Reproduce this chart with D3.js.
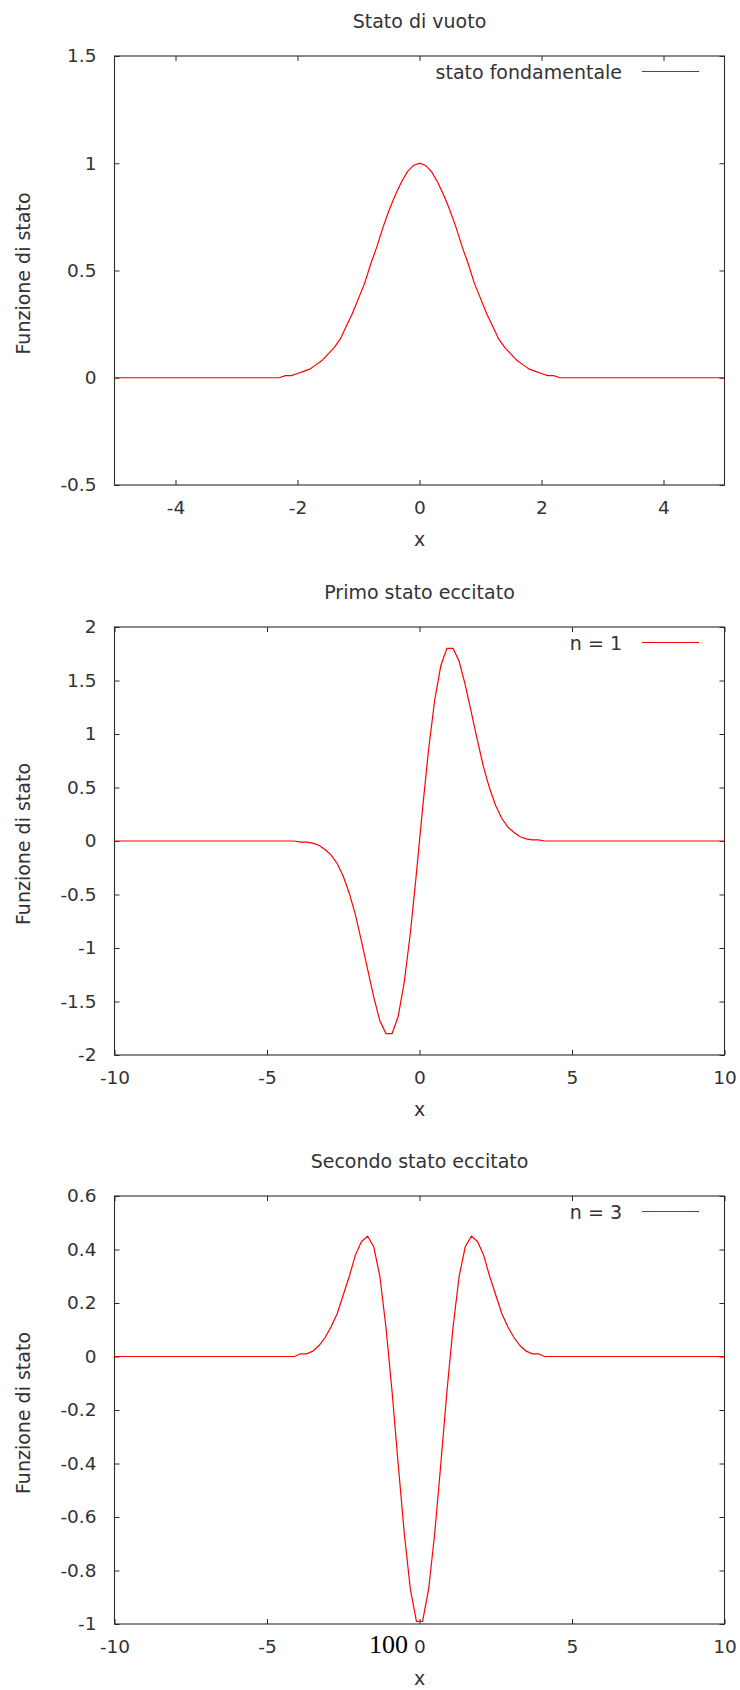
<!DOCTYPE html>

<head>
    <meta charset="UTF-8" />
    <style>
        body {
            margin: 0;
            padding: 0;
            background: #fff;
        }

        text {
            font-family: "DejaVu Sans", sans-serif;
            font-size: 19px;
            fill: #333;
        }

        .tick text {
            font-size: 18.5px;
        }

        .frame {
            fill: none;
            stroke: #2a2a2a;
            stroke-width: 1.1px;
        }

        .tick line {
            stroke: #2a2a2a;
            stroke-width: 1px;
        }

        .curve {
            fill: none;
            stroke: #ff0000;
            stroke-width: 1.2px;
        }
    </style>
    <title>Funzione di stato</title>
</head>

<svg width="740" height="1690"></svg>
<script src="https://d3js.org/d3.v7.min.js"></script>

<script>
    // labels
    var titles = ["Stato di vuoto", "Primo stato eccitato", "Secondo stato eccitato"]
    var legends = ["stato fondamentale", "n = 1", "n = 3"]
    var yLabel = "Funzione di stato"
    var xLabel = "x"

    // axes
    var xRange1 = [-5, 5], yRange1 = [-0.5, 1.5]
    var xTicks1 = [-4, -2, 0, 2, 4], yTicks1 = [-0.5, 0, 0.5, 1, 1.5]
    var xRange2 = [-10, 10], yRange2 = [-2, 2]
    var xTicks2 = [-10, -5, 0, 5, 10], yTicks2 = [-2, -1.5, -1, -0.5, 0, 0.5, 1, 1.5, 2]
    var xRange3 = [-10, 10], yRange3 = [-1, 0.6]
    var xTicks3 = [-10, -5, 0, 5, 10], yTicks3 = [-1, -0.8, -0.6, -0.4, -0.2, 0, 0.2, 0.4, 0.6]

    // stato fondamentale
    var x1 = [-5, -2.4, -2.3, -2.2, -2.1, -2, -1.9, -1.8, -1.7, -1.6, -1.5, -1.4, -1.3, -1.2, -1.1, -1,
        -0.9, -0.8, -0.7, -0.6, -0.5, -0.4, -0.3, -0.2, -0.1, 0, 0.1, 0.2, 0.3, 0.4, 0.5, 0.6, 0.7, 0.8, 0.9,
        1, 1.1, 1.2, 1.3, 1.4, 1.5, 1.6, 1.7, 1.8, 1.9, 2, 2.1, 2.2, 2.3, 2.4, 5]
    var y1 = [0, 0, 0, 0.01, 0.01, 0.02, 0.03, 0.04, 0.06, 0.08, 0.11, 0.14, 0.18, 0.24, 0.30, 0.37,
        0.44, 0.53, 0.61, 0.70, 0.78, 0.85, 0.91, 0.96, 0.99, 1.00, 0.99, 0.96, 0.91, 0.85, 0.78, 0.70, 0.61, 0.53, 0.44,
        0.37, 0.30, 0.24, 0.18, 0.14, 0.11, 0.08, 0.06, 0.04, 0.03, 0.02, 0.01, 0.01, 0, 0, 0]

    // n = 1
    var x2 = [-10, -4.1, -3.9, -3.7, -3.5, -3.3, -3.1, -2.9, -2.7, -2.5, -2.3, -2.1, -1.9, -1.7, -1.5, -1.3, -1.1,
        -0.9, -0.7, -0.5, -0.3, -0.1, 0.1, 0.3, 0.5, 0.7, 0.9, 1.1, 1.3, 1.5, 1.7, 1.9, 2.1, 2.3, 2.5, 2.7, 2.9,
        3.1, 3.3, 3.5, 3.7, 3.9, 4.1, 10]
    var y2 = [0, 0, -0.01, -0.01, -0.02, -0.04, -0.08, -0.13, -0.21, -0.33, -0.49, -0.69, -0.94, -1.20, -1.46, -1.68, -1.80,
        -1.80, -1.64, -1.32, -0.86, -0.30, 0.30, 0.86, 1.32, 1.64, 1.80, 1.80, 1.68, 1.46, 1.20, 0.94, 0.69, 0.49, 0.33, 0.21, 0.13,
        0.08, 0.04, 0.02, 0.01, 0.01, 0, 0]

    // n = 3
    var x3 = [-10, -4.1, -3.9, -3.7, -3.5, -3.3, -3.1, -2.9, -2.7, -2.5, -2.3, -2.1, -1.9, -1.7, -1.5, -1.3, -1.1,
        -0.9, -0.7, -0.5, -0.3, -0.1, 0.1, 0.3, 0.5, 0.7, 0.9, 1.1, 1.3, 1.5, 1.7, 1.9, 2.1, 2.3, 2.5, 2.7, 2.9,
        3.1, 3.3, 3.5, 3.7, 3.9, 4.1, 10]
    var y3 = [0, 0, 0.01, 0.01, 0.02, 0.04, 0.07, 0.11, 0.16, 0.23, 0.30, 0.38, 0.43, 0.45, 0.41, 0.30, 0.11,
        -0.13, -0.40, -0.66, -0.87, -0.99, -0.99, -0.87, -0.66, -0.40, -0.13, 0.11, 0.30, 0.41, 0.45, 0.43, 0.38, 0.30, 0.23, 0.16, 0.11,
        0.07, 0.04, 0.02, 0.01, 0.01, 0, 0]

    var svg = d3.select("svg")
    var left = 114.5, right = 724.5

    var panels = [
        { top: 56, bottom: 485, xr: xRange1, yr: yRange1, xt: xTicks1, yt: yTicks1, xs: x1, ys: y1 },
        { top: 627, bottom: 1055, xr: xRange2, yr: yRange2, xt: xTicks2, yt: yTicks2, xs: x2, ys: y2 },
        { top: 1196, bottom: 1624, xr: xRange3, yr: yRange3, xt: xTicks3, yt: yTicks3, xs: x3, ys: y3 }
    ]

    var fmt = d => String(d)

    panels.forEach(function (p, i) {
        var x = d3.scaleLinear().domain(p.xr).range([left, right])
        var y = d3.scaleLinear().domain(p.yr).range([p.bottom, p.top])
        var g = svg.append("g")

        // ticks on all four sides, pointing inward
        g.append("g")
            .attr("transform", `translate(0,${p.bottom})`)
            .call(d3.axisBottom(x).tickValues(p.xt).tickFormat(fmt).tickSize(-5).tickPadding(15.5))
        g.append("g")
            .attr("transform", `translate(0,${p.top})`)
            .call(d3.axisTop(x).tickValues(p.xt).tickFormat("").tickSize(-5))
        g.append("g")
            .attr("transform", `translate(${left},0)`)
            .call(d3.axisLeft(y).tickValues(p.yt).tickFormat(fmt).tickSize(-5).tickPadding(18))
        g.append("g")
            .attr("transform", `translate(${right},0)`)
            .call(d3.axisRight(y).tickValues(p.yt).tickFormat("").tickSize(-5))

        g.selectAll(".domain").remove()
        g.selectAll(".tick text").attr("fill", "#333").style("font-family", "DejaVu Sans")

        g.append("rect")
            .attr("class", "frame")
            .attr("x", left)
            .attr("y", p.top)
            .attr("width", right - left)
            .attr("height", p.bottom - p.top)

        var line = d3.line()
            .x(d => x(d[0]))
            .y(d => y(d[1]))

        g.append("path")
            .attr("class", "curve")
            .attr("d", line(d3.zip(p.xs, p.ys)))

        // title
        g.append("text")
            .attr("x", (left + right) / 2)
            .attr("y", p.top - 27.7)
            .attr("text-anchor", "middle")
            .text(titles[i])

        // axis labels
        g.append("text")
            .attr("x", (left + right) / 2)
            .attr("y", p.bottom + 61)
            .attr("text-anchor", "middle")
            .text(xLabel)

        g.append("text")
            .attr("transform", `translate(29.5,${(p.top + p.bottom) / 2 + 3}) rotate(-90)`)
            .attr("text-anchor", "middle")
            .text(yLabel)

        // legend
        var ly = p.top + 15.5
        g.append("text")
            .attr("x", 622)
            .attr("y", ly + 7)
            .attr("text-anchor", "end")
            .text(legends[i])
        g.append("line")
            .attr("class", "curve")
            .attr("x1", 642)
            .attr("x2", 699)
            .attr("y1", ly)
            .attr("y2", ly)
    })

    // stray label sitting next to the 0 tick of the last panel
    svg.append("text")
        .attr("x", 408)
        .attr("y", 1653)
        .attr("text-anchor", "end")
        .style("font-family", "'Liberation Serif', serif")
        .style("font-size", "26px")
        .style("fill", "#000")
        .text("100")
</script>
